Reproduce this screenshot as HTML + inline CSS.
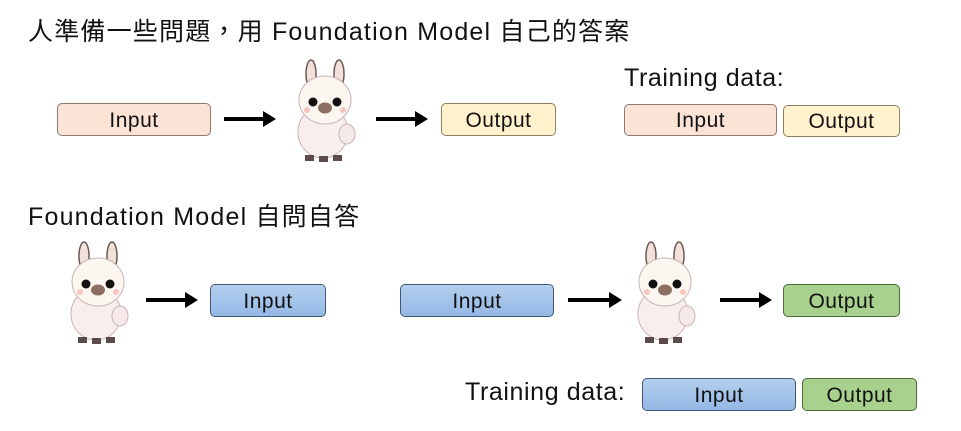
<!DOCTYPE html>
<html><head><meta charset="utf-8"><style>
body{margin:0;width:961px;height:431px;background:#fff;position:relative;overflow:hidden;font-family:"Liberation Sans","Noto Sans CJK TC",sans-serif;color:#111}
.t{position:absolute;font-size:25px;white-space:nowrap;letter-spacing:0.6px}
.h{letter-spacing:1.2px}
.b{position:absolute;box-sizing:border-box;border:1.5px solid #555;border-radius:5px;font-size:21px;display:flex;align-items:center;justify-content:center;padding-top:2px;letter-spacing:0.5px}
.pk{background:#fbe3d6;border-color:#8c7a70}
.yl{background:#fff2cc;border-color:#8c8060}
.bl{background:linear-gradient(#b4cfee,#94b8e4);border-color:#40597a}
.gr{background:#a9d18e;border-color:#4d6b3c}
.ar{position:absolute;height:4px;background:#000}
.ar:after{content:"";position:absolute;right:-12px;top:-6px;border-left:13px solid #000;border-top:8px solid transparent;border-bottom:8px solid transparent}
svg{position:absolute}
</style></head><body>
<div class="t h" style="left:28px;top:12px">人準備一些問題，用 Foundation Model 自己的答案</div>
<div class="b pk" style="left:57px;top:103px;width:154px;height:33px">Input</div>
<div class="ar" style="left:224px;top:117px;width:40px"></div>
<div class="ar" style="left:376px;top:117px;width:40px"></div>
<div class="b yl" style="left:441px;top:103px;width:115px;height:33px">Output</div>
<div class="t" style="left:624px;top:64px">Training data:</div>
<div class="b pk" style="left:624px;top:104px;width:153px;height:32px">Input</div>
<div class="b yl" style="left:783px;top:105px;width:117px;height:32px">Output</div>

<div class="t h" style="left:28px;top:197px">Foundation Model 自問自答</div>
<div class="ar" style="left:146px;top:298px;width:40px"></div>
<div class="b bl" style="left:210px;top:284px;width:116px;height:33px">Input</div>
<div class="b bl" style="left:400px;top:284px;width:154px;height:33px">Input</div>
<div class="ar" style="left:568px;top:298px;width:42px"></div>
<div class="ar" style="left:720px;top:298px;width:40px"></div>
<div class="b gr" style="left:783px;top:284px;width:117px;height:33px">Output</div>
<div class="t" style="left:465px;top:378px">Training data:</div>
<div class="b bl" style="left:642px;top:378px;width:154px;height:33px">Input</div>
<div class="b gr" style="left:802px;top:378px;width:115px;height:33px">Output</div>

<svg width="0" height="0"><defs><g id="L">
<ellipse cx="18" cy="16" rx="5" ry="14" fill="#f3e0da" stroke="#6b5a55" stroke-width="1.5"/>
<ellipse cx="46" cy="16" rx="5" ry="14" fill="#f3e0da" stroke="#6b5a55" stroke-width="1.5"/>
<ellipse cx="30" cy="74" rx="25" ry="26" fill="#f9eeee" stroke="#c9b4b4" stroke-width="1"/>
<ellipse cx="54" cy="76" rx="8" ry="10" fill="#f5e9ea" stroke="#c9b4b4" stroke-width="1"/>
<ellipse cx="32" cy="42" rx="26" ry="24" fill="#fcf6f0" stroke="#c9b4b4" stroke-width="1"/>
<circle cx="20" cy="44" r="4.5" fill="#111"/><circle cx="44" cy="44" r="4.5" fill="#111"/>
<ellipse cx="32" cy="50" rx="7" ry="5.5" fill="#8d6e63"/>
<circle cx="14" cy="52" r="3" fill="#f7c6c0"/><circle cx="50" cy="52" r="3" fill="#f7c6c0"/>
<rect x="12" y="97" width="9" height="6" fill="#5d4a4a"/><rect x="26" y="98" width="9" height="6" fill="#5d4a4a"/><rect x="40" y="97" width="9" height="6" fill="#5d4a4a"/>
</g></defs></svg>
<svg style="left:293px;top:58px" width="64" height="105"><use href="#L"/></svg>
<svg style="left:66px;top:240px" width="64" height="105"><use href="#L"/></svg>
<svg style="left:633px;top:240px" width="64" height="105"><use href="#L"/></svg>
</body></html>
